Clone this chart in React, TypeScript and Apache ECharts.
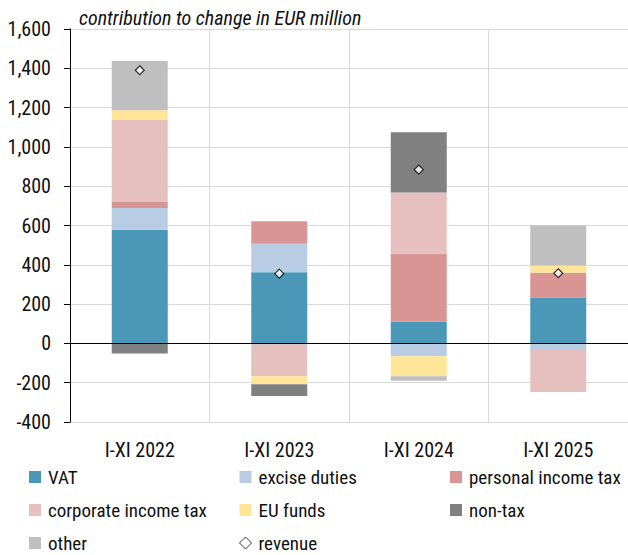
import React, { useEffect, useRef } from "react";
import * as echarts from "echarts";

const categories = ["I-XI 2022", "I-XI 2023", "I-XI 2024", "I-XI 2025"];
const vat = [578, 362, 110, 233];
const excise = [111, 145, -65, -34];
const pit = [30, 115, 347, 127];
const cit = [420, -167, 311, -213];
const euFunds = [48, -41, -102, 36];
const nonTax = [-51, -60, 307, 0];
const other = [250, 0, -23, 204];
const revenue = [1390, 355, 884, 357];

const yTicks = { min: -400, max: 1600, interval: 200 };
const FONT = "'Roboto Condensed', sans-serif";

const colors = {
  VAT: "#4B97B8",
  "excise duties": "#B8CCE4",
  "personal income tax": "#D99594",
  "corporate income tax": "#E6BFBF",
  "EU funds": "#FFE598",
  "non-tax": "#808080",
  other: "#BFBFBF",
};

export default function App() {
  const ref = useRef<HTMLDivElement>(null);
  useEffect(() => {
    document.body.style.margin = "0";
    const chart = echarts.init(ref.current!, null, { renderer: "svg" });
    const barSeries = (name: string, data: number[], extra: any = {}) => ({
      name,
      type: "bar",
      stack: "total",
      barWidth: 56,
      data,
      itemStyle: { color: (colors as any)[name] },
      ...extra,
    });
    const legendBase = {
      orient: "vertical",
      itemWidth: 12,
      itemHeight: 12,
      itemGap: 13,
      height: 86,
      padding: 0,
      selectedMode: false,
      textStyle: {
        fontFamily: FONT,
        fontSize: 19,
        lineHeight: 20,
        color: "#111",
        padding: [0, 0, 0, 2],
      },
    };
    chart.setOption({
      animation: false,
      title: {
        text: "contribution to change in EUR million",
        left: 74,
        top: 3,
        textStyle: {
          fontFamily: FONT,
          fontStyle: "italic",
          fontWeight: "normal",
          fontSize: 20,
          color: "#111",
        },
      },
      grid: { left: 70, top: 29, width: 560, bottom: 133 },
      legend: [
        {
          ...legendBase,
          left: 29,
          top: 467,
          data: [
            { name: "VAT", icon: "rect" },
            { name: "corporate income tax", icon: "rect" },
            { name: "other", icon: "rect" },
          ],
        },
        {
          ...legendBase,
          left: 239,
          top: 467,
          data: [
            { name: "excise duties", icon: "rect" },
            { name: "EU funds", icon: "rect" },
            {
              name: "revenue",
              icon: "diamond",
              itemStyle: { color: "#fff", borderColor: "#000", borderWidth: 1 },
            },
          ],
        },
        {
          ...legendBase,
          left: 450,
          top: 467,
          data: [
            { name: "personal income tax", icon: "rect" },
            { name: "non-tax", icon: "rect" },
          ],
        },
      ],
      xAxis: {
        type: "category",
        data: categories,
        axisLine: { show: false, onZero: false },
        axisTick: { show: false },
        splitLine: { show: true, lineStyle: { color: "#D9D9D9", width: 1 } },
        axisLabel: {
          margin: 18,
          fontFamily: FONT,
          fontSize: 20,
          lineHeight: 20,
          color: "#111",
        },
      },
      yAxis: {
        type: "value",
        min: yTicks.min,
        max: yTicks.max,
        interval: yTicks.interval,
        axisLine: { show: true, lineStyle: { color: "#000", width: 1 } },
        axisTick: { show: true, length: 6, lineStyle: { color: "#000" } },
        splitLine: { show: true, lineStyle: { color: "#D9D9D9", width: 1 } },
        axisLabel: {
          margin: 19,
          fontFamily: FONT,
          fontSize: 20,
          color: "#111",
          formatter: (v: number) => v.toLocaleString("en-US"),
        },
      },
      series: [
        barSeries("VAT", vat, {
          markLine: {
            silent: true,
            symbol: "none",
            label: { show: false },
            lineStyle: { color: "#000", width: 1, type: "solid" },
            data: [{ yAxis: 0 }],
            z: 10,
          },
        }),
        barSeries("excise duties", excise),
        barSeries("personal income tax", pit),
        barSeries("corporate income tax", cit),
        barSeries("EU funds", euFunds),
        barSeries("non-tax", nonTax),
        barSeries("other", other),
        {
          name: "revenue",
          type: "scatter",
          data: revenue,
          symbol: "diamond",
          symbolSize: 9,
          z: 20,
          itemStyle: { color: "#fff", borderColor: "#000", borderWidth: 1.2 },
        },
      ],
    });
    return () => chart.dispose();
  }, []);
  return <div ref={ref} style={{ width: 628, height: 555 }} />;
}
